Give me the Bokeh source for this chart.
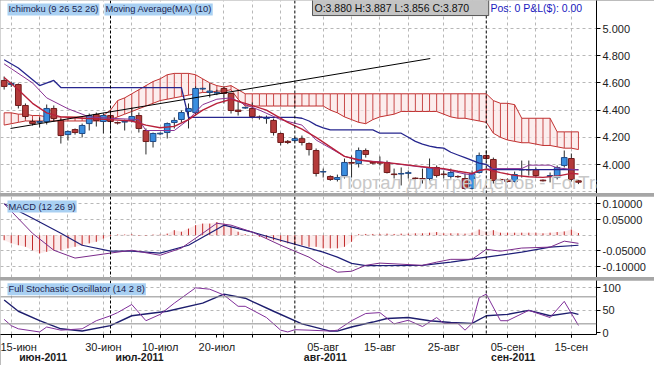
from bokeh.plotting import figure
from bokeh.models import (Range1d, LinearAxis, FixedTicker, NumeralTickFormatter,
                          Span, Label, ColumnDataSource)
from bokeh.layouts import column
from bokeh.embed import file_html
from bokeh.resources import INLINE

# ---------------- data (bar index 0 = 01-Jul-2011, forex bars Sun-Fri) ----------------
idx = list(range(-15, 67))

open_ = [4.618, 4.588, 4.588, 4.434, 4.316, 4.310, 4.316, 4.412, 4.324, 4.220,
         4.257, 4.228, 4.301, 4.368, 4.316, 4.360, 4.309, 4.312, 4.324, 4.360,
         4.250, 4.169, 4.225, 4.235, 4.309, 4.331, 4.390, 4.382, 4.555, 4.530,
         4.525, 4.559, 4.522, 4.400, 4.415, 4.412, 4.350, 4.338, 4.324, 4.228,
         4.170, 4.176, 4.190, 4.154, 4.103, 3.945, 3.912, 3.890, 3.919, 4.015,
         4.007, 4.103, 4.015, 4.015, 4.015, 3.930, 3.930, 3.935, 3.900, 3.897,
         3.897, 3.978, 3.930, 3.912, 3.912, 3.897, 3.824, 3.941, 4.066, 4.037,
         3.890, 3.890, 3.875, 3.960, 3.963, 3.963, 3.885, 3.912, 3.904, 3.993,
         4.044, 3.880]
high = [4.647, 4.610, 4.596, 4.449, 4.330, 4.346, 4.441, 4.434, 4.338, 4.250,
        4.265, 4.301, 4.375, 4.382, 4.375, 4.375, 4.316, 4.330, 4.419, 4.382,
        4.265, 4.235, 4.235, 4.309, 4.346, 4.397, 4.449, 4.574, 4.565, 4.596,
        4.550, 4.574, 4.529, 4.470, 4.425, 4.456, 4.360, 4.360, 4.338, 4.235,
        4.180, 4.200, 4.213, 4.162, 4.118, 3.970, 3.920, 3.926, 4.044, 4.066,
        4.125, 4.118, 4.020, 4.059, 4.029, 3.970, 3.978, 3.956, 3.905, 3.970,
        4.044, 3.993, 3.956, 3.970, 3.920, 3.934, 3.956, 4.088, 4.103, 4.051,
        3.895, 3.897, 3.948, 4.029, 4.029, 3.978, 3.890, 3.941, 3.993, 4.103,
        4.081, 3.887]
low = [4.551, 4.570, 4.412, 4.338, 4.287, 4.272, 4.294, 4.316, 4.154, 4.176,
       4.220, 4.199, 4.250, 4.279, 4.228, 4.250, 4.294, 4.250, 4.309, 4.235,
       4.074, 4.125, 4.215, 4.191, 4.265, 4.309, 4.265, 4.360, 4.550, 4.493,
       4.510, 4.449, 4.375, 4.360, 4.410, 4.338, 4.330, 4.300, 4.213, 4.140,
       4.150, 4.170, 4.140, 4.066, 3.912, 3.904, 3.880, 3.875, 3.897, 3.904,
       3.978, 4.051, 4.000, 3.993, 3.934, 3.897, 3.846, 3.897, 3.890, 3.860,
       3.882, 3.904, 3.897, 3.897, 3.900, 3.816, 3.816, 3.934, 4.029, 3.860,
       3.880, 3.868, 3.868, 3.904, 3.919, 3.904, 3.875, 3.868, 3.890, 3.978,
       3.875, 3.856]
close = [4.574, 4.596, 4.434, 4.353, 4.301, 4.316, 4.412, 4.338, 4.213, 4.243,
         4.235, 4.287, 4.360, 4.324, 4.360, 4.316, 4.305, 4.316, 4.353, 4.265,
         4.169, 4.228, 4.230, 4.301, 4.324, 4.382, 4.412, 4.559, 4.560, 4.540,
         4.530, 4.522, 4.397, 4.390, 4.420, 4.353, 4.345, 4.346, 4.235, 4.162,
         4.162, 4.190, 4.162, 4.110, 3.934, 3.948, 3.890, 3.904, 4.015, 4.010,
         4.103, 4.074, 4.010, 4.010, 3.941, 3.926, 3.934, 3.940, 3.897, 3.895,
         3.978, 3.919, 3.926, 3.941, 3.910, 3.824, 3.934, 4.066, 4.044, 3.882,
         3.888, 3.875, 3.926, 3.963, 3.960, 3.919, 3.880, 3.919, 3.978, 4.051,
         3.890, 3.870]

# Ichimoku cloud (senkou spans, as displayed)
span_a = [4.38, 4.38, 4.37, 4.37, 4.36, 4.36, 4.35, 4.35, 4.35, 4.35,
          4.35, 4.35, 4.35, 4.35, 4.36,
          4.40, 4.47, 4.49, 4.52, 4.55, 4.58, 4.61, 4.63, 4.66, 4.67,
          4.67, 4.67, 4.66, 4.63, 4.60, 4.58, 4.57, 4.58, 4.55, 4.52,
          4.52, 4.52, 4.52, 4.52, 4.52, 4.52, 4.52, 4.52, 4.52, 4.52,
          4.52, 4.52, 4.52, 4.52, 4.52, 4.52, 4.52, 4.52, 4.52, 4.52,
          4.52, 4.52, 4.52, 4.52, 4.52, 4.52, 4.52, 4.52, 4.52, 4.52,
          4.52, 4.52, 4.52, 4.52, 4.47, 4.45, 4.45, 4.44, 4.34, 4.34,
          4.34, 4.34, 4.34, 4.24, 4.24, 4.24, 4.24]
span_b = [4.29, 4.30, 4.31, 4.32, 4.32, 4.32, 4.32, 4.32, 4.32, 4.32,
          4.32, 4.32, 4.32, 4.32, 4.32,
          4.33, 4.35, 4.37, 4.39, 4.41, 4.43, 4.45, 4.47, 4.48, 4.49,
          4.50, 4.51, 4.52, 4.53, 4.53, 4.54, 4.54, 4.55, 4.48, 4.43,
          4.43, 4.43, 4.43, 4.43, 4.43, 4.43, 4.43, 4.43, 4.43, 4.43,
          4.43, 4.40, 4.38, 4.35, 4.33, 4.31, 4.30, 4.33, 4.35, 4.36,
          4.37, 4.39, 4.39, 4.39, 4.39, 4.39, 4.39, 4.37, 4.35, 4.34,
          4.34, 4.33, 4.32, 4.31, 4.23, 4.20, 4.18, 4.17, 4.16, 4.16,
          4.15, 4.14, 4.14, 4.13, 4.12, 4.12, 4.11]

kijun_x = [-15, -13, -10, -8, -7, 10, 11, 26, 27, 28, 29, 30, 31, 37, 38, 41, 42, 43,
           44, 45, 46, 47, 48, 49, 50, 51, 52, 53, 54, 66]
kijun_y = [4.77, 4.71, 4.58, 4.618, 4.566, 4.566, 4.346, 4.346, 4.34, 4.32, 4.29, 4.27,
           4.255, 4.255, 4.23, 4.23, 4.20, 4.17, 4.15, 4.135, 4.125, 4.12, 4.09, 4.07,
           4.05, 4.03, 4.01, 4.00, 3.963, 3.963]

tenkan_x = [-15, -11, -9, -6, -3, 0, 4, 5, 9, 11, 13, 15, 17, 19, 21, 24, 27, 29, 31,
            33, 35, 38, 41, 44, 47, 50, 51, 52, 54, 58, 59, 62, 63, 66]
tenkan_y = [4.74, 4.60, 4.49, 4.41, 4.35, 4.34, 4.33, 4.25, 4.25, 4.33, 4.44, 4.48,
            4.49, 4.44, 4.40, 4.33, 4.29, 4.18, 4.12, 4.06, 4.03, 4.02, 4.00, 3.98,
            3.965, 3.93, 3.925, 3.96, 3.97, 3.97, 3.995, 3.995, 3.975, 3.96]

ma_x = [-15, -13, -11, -9, -7, -4, 0, 3, 5, 7, 9, 11, 13, 15, 17, 19, 22, 25, 27, 29,
        31, 33, 35, 37, 40, 43, 45, 47, 49, 51, 52, 53, 55, 57, 59, 61, 63, 65, 66]
ma_y = [4.64, 4.55, 4.45, 4.38, 4.35, 4.34, 4.33, 4.32, 4.29, 4.27, 4.28, 4.33, 4.40,
        4.45, 4.48, 4.45, 4.40, 4.31, 4.26, 4.20, 4.13, 4.06, 4.035, 4.02, 4.008, 3.99,
        3.978, 3.97, 3.95, 3.935, 3.955, 3.965, 3.94, 3.92, 3.91, 3.905, 3.915, 3.935,
        3.93]

trend_x = [-14.1, 45.1]
trend_y = [4.265, 4.779]

# MACD (12 26 9)
macd_hist = [-0.016, -0.026, -0.032, -0.037, -0.048, -0.058, -0.053, -0.048, -0.048, -0.042,
             -0.037, -0.032, -0.026, -0.021, -0.011,
             -0.003, 0.002, 0.002, 0.003, -0.002, -0.002, 0.002, 0.002, 0.005, 0.016,
             0.011, 0.021, 0.032, 0.037, 0.037, 0.042, 0.037, 0.026, 0.011, 0.003,
             -0.002, -0.005, -0.011, -0.016, -0.021, -0.026, -0.032, -0.032, -0.037, -0.037,
             -0.042, -0.042, -0.042, -0.037, -0.021, 0.003, 0.004, 0.004, 0.004, 0.005,
             0.004, 0.005, 0.005, 0.006, 0.006, 0.008, 0.010, 0.006, 0.006, 0.006,
             0.005, 0.008, 0.018, 0.010, 0.016, 0.008, 0.008, 0.008, 0.008, 0.008,
             0.008, 0.006, 0.008, 0.010, 0.012, 0.018, 0.00689]
signal_x = [-15, -11, -7, -4, 0, 3, 7, 11, 16, 20, 24, 30, 32, 34, 36, 44, 48, 53, 58, 62, 66]
signal_y = [0.100, 0.054, 0.006, -0.032, -0.051, -0.051, -0.057, -0.032, 0.032, 0.010,
            -0.016, -0.054, -0.070, -0.090, -0.097, -0.096, -0.086, -0.070, -0.054,
            -0.038, -0.032]
macd_x = [-15, -11, -8, -5, 0, 3, 7, 10, 13, 15, 17, 20, 24, 28, 30, 31, 32, 34, 36, 38,
          44, 46, 48, 51, 53, 55, 58, 62, 64, 66]
macd_y = [0.100, 0.006, -0.048, -0.073, -0.057, -0.048, -0.064, -0.041, 0.006, 0.038,
          0.032, 0.010, -0.032, -0.070, -0.098, -0.106, -0.118, -0.115, -0.096, -0.089,
          -0.096, -0.086, -0.077, -0.077, -0.045, -0.051, -0.041, -0.038, -0.019, -0.026]

# Full Stochastic (14 2 8)
stoch_d_x = [-15, -13, -10, -7, -4, 0, 3, 8, 13, 16, 19, 23, 27, 31, 32, 34, 37, 39, 42,
             45, 48, 51, 53, 56, 59, 62, 65, 66]
stoch_d_y = [73, 48, 27, 9, 4, 16, 38, 48, 66, 86, 77, 48, 20, 4, 4, 13, 24, 32, 34,
             27, 23, 21, 38, 41, 50, 38, 45, 41]
stoch_k_x = [-15, -14, -13, -10, -9, -7, -4, -2, 0, 1, 3, 5, 7, 9, 12, 14, 16, 18, 19,
             22, 24, 25, 26, 28, 31, 32, 34, 36, 38, 40, 42, 44, 46, 47, 49, 50, 51, 52,
             53, 55, 56, 59, 62, 64, 66]
stoch_k_y = [30, 16, 9, 2, 13, 6, 9, 27, 38, 45, 63, 27, 41, 66, 100, 97, 84, 59, 59,
             34, 6, 2, 7, 6, 4, 6, 27, 43, 45, 20, 28, 14, 34, 21, 21, 6, 21, 78,
             86, 27, 27, 50, 34, 70, 16.5]

# axis ticks / labels
grid_idx = [-14, -10, -6, -1, 3, 7, 12, 16, 20, 24, 30, 34, 38, 42, 47, 51, 56, 60, 65]
month_start_idx = [0, 26, 53]
date_tick_idx = [-14, -1, 7, 15, 30, 38, 47, 56, 65]
date_tick_labels = ["15-июн", "30-июн", "10-июл", "20-июл", "05-авг", "15-авг",
                    "25-авг", "05-сен", "15-сен"]
month_tick_idx = [-9.5, 4.1, 30.3, 56.8]
month_tick_labels = ["июн-2011", "июл-2011", "авг-2011", "сен-2011"]
price_ticks = [4.0, 4.2, 4.4, 4.6, 4.8, 5.0]
price_grid = [3.8, 4.0, 4.2, 4.4, 4.6, 4.8, 5.0]
macd_ticks = [-0.1, -0.05, 0.05, 0.1]
macd_grid = [-0.1, -0.05, 0.0, 0.05, 0.1]
stoch_ticks = [0, 50, 100]
stoch_levels = [20, 80]

last_price = close[-1]
last_hist = macd_hist[-1]
last_k = stoch_k_y[-1]

# ---------------- layout ----------------
W = 654
XR = (-15.515, 68.547)
FONT = "Liberation Sans"
GRID = "#b8b8b8"


def base_fig(h, yr, ticks, grid, fmt, bottom=0):
    p = figure(width=W, height=h, x_range=Range1d(*XR), y_range=Range1d(*yr),
               output_backend="svg", toolbar_location=None,
               x_axis_location=None, y_axis_location="right",
               min_border_left=0, min_border_right=58, min_border_top=0,
               min_border_bottom=bottom, outline_line_color=None)
    ax = p.yaxis[0]
    ax.ticker = FixedTicker(ticks=ticks)
    ax.formatter = NumeralTickFormatter(format=fmt)
    ax.axis_line_color = "black"
    ax.major_tick_out = 4
    ax.major_tick_in = 0
    ax.minor_tick_line_color = None
    ax.major_label_text_font = FONT
    ax.major_label_text_font_size = "11px"
    ax.major_label_text_color = "#222222"
    ax.major_label_standoff = 2
    p.xgrid.ticker = FixedTicker(ticks=grid_idx)
    p.xgrid.grid_line_color = GRID
    p.xgrid.grid_line_dash = "3 3"
    p.ygrid.ticker = FixedTicker(ticks=grid)
    p.ygrid.grid_line_color = GRID
    p.ygrid.grid_line_dash = "3 3"
    for m in month_start_idx:
        p.add_layout(Span(location=m, dimension="height", line_color="black",
                          line_dash="3 2", line_width=1))
    return p


def tag(p, x, y, text, size="9.3px"):
    p.add_layout(Label(x=x, y=y, text=text, text_font=FONT, text_font_size=size,
                       text_color="#1c2450", text_baseline="middle",
                       background_fill_color="#a9d0f2", padding=1))


# ---- price panel ----
p1 = base_fig(193, (3.7868, 5.2059), price_ticks, price_grid, "0.000")
p1.varea(x=idx, y1=span_a, y2=span_b, fill_color="#fbe6e6", fill_alpha=0.7)
p1.segment(x0=idx, y0=span_a, x1=idx, y1=span_b, line_color="#c84848", line_width=1)
p1.line(idx, span_a, line_color="#c03030", line_width=1)
p1.line(idx, span_b, line_color="#c03030", line_width=1)

p1.add_layout(Label(x=32.16, y=3.794, text="Портал для трейдеров - ForTrader.ru",
                    text_font=FONT, text_font_size="18.5px", text_color="#c8c8c8",
                    text_baseline="bottom"))

up = [c >= o for o, c in zip(open_, close)]
src = ColumnDataSource(dict(
    x=idx, low=low, high=high,
    top=[max(o, c) for o, c in zip(open_, close)],
    bottom=[min(o, c) for o, c in zip(open_, close)],
    fill=["#3a8ee0" if u else "#b43a3a" for u in up],
    edge=["#1f4a86" if u else "#6e1c1c" for u in up],
))
p1.segment(x0="x", y0="low", x1="x", y1="high", source=src, line_color="#2a2a2a", line_width=1)
p1.vbar(x="x", width=0.8, top="top", bottom="bottom", fill_color="fill",
        line_color="edge", line_width=1, source=src)

p1.line(kijun_x, kijun_y, line_color="#26268e", line_width=1.3)
p1.line(tenkan_x, tenkan_y, line_color="#8a3494", line_width=1)
p1.line(ma_x, ma_y, line_color="#b8203a", line_width=1.4)
p1.line(trend_x, trend_y, line_color="black", line_width=1)

tag(p1, -14.53, 5.140, "Ichimoku (9 26 52 26)")
tag(p1, -0.85, 5.140, "Moving Average(MA) (10)")
p1.add_layout(Label(x=28.49, y=5.154, text="O:3.880   H:3.887   L:3.856   C:3.870",
                    text_font=FONT, text_font_size="10.5px", text_color="#111111",
                    text_baseline="middle", background_fill_color="#c4c4c4",
                    border_line_color="#555555", padding=2))
p1.add_layout(Label(x=53.6, y=5.154, text="Pos: 0 P&L($): 0.00",
                    text_font=FONT, text_font_size="10.5px", text_color="#1a1ac0",
                    text_baseline="middle"))
p1.add_layout(Label(x=73.48, y=last_price, text="\u2007\u2007\u2007", text_font=FONT,
                    text_font_size="11px", text_baseline="middle",
                    background_fill_color="#d9a9d9", padding=3))
p1.add_layout(Label(x=69.25, y=last_price, text=f"{last_price:.3f}", text_font=FONT,
                    text_font_size="11px", text_color="#111111", text_baseline="middle",
                    background_fill_color="white", border_line_color="black", padding=3))

# ---- MACD panel ----
p2 = base_fig(81, (-0.1349, 0.1234), macd_ticks, macd_grid, "0.00000")
p2.varea(x=idx, y1=0, y2=macd_hist, fill_color="#fbe3e3", fill_alpha=0.7)
p2.segment(x0=idx, y0=0, x1=idx, y1=macd_hist, line_color="#c02828", line_width=1)
p2.line(signal_x, signal_y, line_color="#1e1e78", line_width=1.2)
p2.line(macd_x, macd_y, line_color="#7a2a8a", line_width=1)
tag(p2, -14.53, 0.0915, "MACD (12 26 9)")
p2.add_layout(Label(x=69.25, y=last_hist, text=f"{last_hist:.5f}", text_font=FONT,
                    text_font_size="11px", text_color="white", text_baseline="middle",
                    background_fill_color="black", padding=0))

# ---- Stochastic panel ----
p3 = base_fig(85, (-3.64, 116.3), stoch_ticks, [50, 100], "0", bottom=29)
for lv in stoch_levels:
    p3.add_layout(Span(location=lv, dimension="width", line_color="#8c8c8c", line_width=1))
p3.line(stoch_d_x, stoch_d_y, line_color="#1e1e6e", line_width=1.4)
p3.line(stoch_k_x, stoch_k_y, line_color="#80309a", line_width=1)
tag(p3, -14.53, 97.0, "Full Stochastic Oscillator (14 2 8)")
p3.add_layout(Label(x=69.25, y=last_k, text=f"{last_k:.2f}", text_font=FONT,
                    text_font_size="11.5px", text_color="white", text_baseline="middle",
                    background_fill_color="black", padding=1))

xa = LinearAxis(ticker=FixedTicker(ticks=date_tick_idx, minor_ticks=grid_idx),
                major_label_overrides=dict(zip(date_tick_idx, date_tick_labels)),
                axis_line_color="black", major_tick_out=3, major_tick_in=0,
                minor_tick_out=3, minor_tick_in=0, major_label_standoff=3,
                major_label_text_font=FONT, major_label_text_font_size="11px",
                major_label_text_color="#1a1a1a")
p3.add_layout(xa, "below")
mxa = LinearAxis(ticker=FixedTicker(ticks=month_tick_idx),
                 major_label_overrides=dict(zip(month_tick_idx, month_tick_labels)),
                 axis_line_color=None, major_tick_line_color=None,
                 minor_tick_line_color=None, major_tick_out=0, major_tick_in=0,
                 minor_tick_out=0, minor_tick_in=0, major_label_standoff=-5,
                 major_label_text_font=FONT, major_label_text_font_size="10.5px",
                 major_label_text_font_style="bold", major_label_text_color="#1a1a1a")
p3.add_layout(mxa, "below")

layout = column(p1, p2, p3, spacing=3, styles={"background-color": "#a6a6a6"})

open("out.html", "w").write(file_html(layout, INLINE))
